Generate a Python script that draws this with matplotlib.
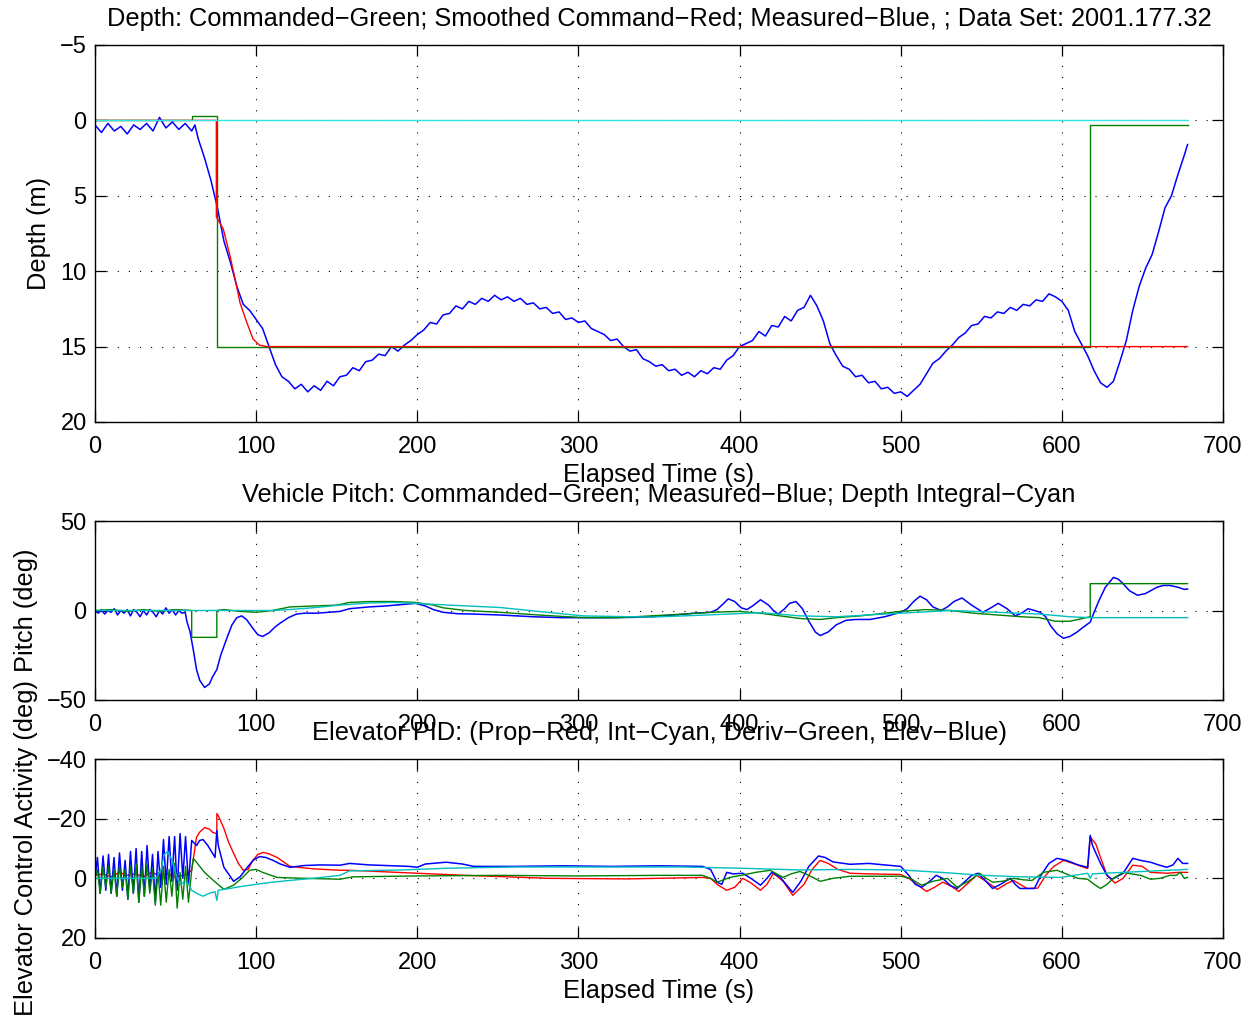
import matplotlib
matplotlib.use("Agg")
import matplotlib.pyplot as plt

plt.rcParams['font.family'] = ['Liberation Sans', 'DejaVu Sans']
plt.rcParams['font.size'] = 17

# ---------------- depth panel data ----------------
depth_meas_t = [0, 4, 8, 12, 16, 20, 24, 28, 32, 36, 40, 44, 48, 52, 56, 60, 62,
                64, 68, 72, 76, 80, 84, 88, 92, 96, 100, 104, 108, 112, 116, 120, 124,
                128, 132, 136, 140, 144, 148, 152, 156, 160, 164, 168, 172, 176, 180,
                184, 188, 192, 196, 200, 204, 208, 212, 216, 220, 224, 228, 232, 236,
                240, 244, 248, 252, 256, 260, 264, 268, 272, 276, 280, 284, 288, 292,
                296, 300, 304, 308, 312, 316, 320, 324, 328, 332, 336, 340, 344, 348,
                352, 356, 360, 364, 368, 372, 376, 380, 384, 388, 392, 396, 400, 404,
                408, 412, 416, 420, 424, 428, 432, 436, 440, 444, 448, 452, 456, 460,
                464, 468, 472, 476, 480, 484, 488, 492, 496, 500, 504, 508, 512, 516,
                520, 524, 528, 532, 536, 540, 544, 548, 552, 556, 560, 564, 568, 572,
                576, 580, 584, 588, 592, 596, 600, 604, 608, 612, 616, 620, 624, 628,
                632, 636, 640, 644, 648, 652, 656, 660, 664, 668, 672, 676, 678]
depth_meas = [0.3, 0.8, 0.2, 0.7, 0.4, 0.9, 0.3, 0.6, 0.2, 0.7, -0.2, 0.5, 0.1, 0.6, 0.2, 0.7, 0.3,
              1.2, 2.5, 4.0, 5.8, 8.0, 9.4, 11.0, 12.2, 12.6, 13.2, 13.8, 15.0, 16.2, 17.0, 17.3, 17.8,
              17.5, 18.0, 17.6, 17.9, 17.3, 17.6, 17.0, 16.9, 16.4, 16.6, 16.0, 15.9, 15.5, 15.6,
              15.0, 15.3, 14.9, 14.6, 14.2, 13.9, 13.4, 13.5, 12.9, 12.8, 12.3, 12.5, 12.0, 12.2,
              11.8, 12.0, 11.6, 11.9, 11.7, 12.0, 11.8, 12.2, 12.1, 12.5, 12.4, 12.8, 12.7, 13.2,
              13.1, 13.4, 13.3, 13.8, 14.0, 14.2, 14.6, 14.5, 15.0, 15.3, 15.2, 15.8, 16.0, 16.3,
              16.2, 16.6, 16.5, 16.9, 16.7, 17.0, 16.6, 16.8, 16.4, 16.5, 15.9, 15.6, 15.0, 14.8,
              14.6, 14.0, 14.3, 13.6, 13.7, 13.0, 13.3, 12.6, 12.4, 11.6, 12.3, 13.3, 14.8, 15.6,
              16.3, 16.5, 17.0, 16.9, 17.4, 17.3, 17.8, 17.7, 18.1, 18.0, 18.3, 17.9, 17.5, 16.8,
              16.1, 15.8, 15.3, 14.9, 14.4, 14.1, 13.6, 13.5, 13.0, 13.1, 12.7, 12.8, 12.4, 12.6,
              12.2, 12.3, 11.9, 12.0, 11.5, 11.7, 12.0, 12.6, 14.0, 14.8, 15.6, 16.6, 17.4, 17.7,
              17.3, 16.0, 14.6, 12.6, 11.0, 9.8, 8.9, 7.4, 5.8, 5.0, 3.6, 2.3, 1.6]

depth_smooth_t = [0, 75.3, 75.3, 79.6, 83.8, 86.9, 90.0, 94.2, 98.1, 102, 106.6, 678]
depth_smooth = [0, 0, 6.4, 7.2, 9.0, 10.5, 12.1, 13.4, 14.5, 14.9, 15, 15]

depth_cmd_t = [0, 60, 60, 75.5, 75.5, 617.5, 617.5, 678]
depth_cmd = [0, 0, -0.3, -0.3, 15, 15, 0.3, 0.3]

depth_ref_t = [0, 678]
depth_ref = [0, 0]

# ---------------- pitch panel data ----------------
pitch_meas_t = [0, 2, 4, 6, 8, 10, 12, 14, 16, 18, 20, 22, 24, 26, 28, 30, 32, 34, 36, 38,
                40, 42, 44, 46, 48, 50, 52, 54, 56, 57, 59, 61, 63, 65, 68, 71, 73, 75.6,
                78, 80, 82, 85, 88, 91, 94, 98, 101, 104, 108, 112, 115, 120, 125, 130,
                138, 145, 152, 158, 170, 180, 190, 199, 205, 210, 216, 225, 235, 251, 262,
                272, 290, 303, 320, 335, 345, 360, 372, 382, 386, 389, 393, 397, 401,
                404.5, 408, 413, 418, 421, 424, 428, 431, 435, 439, 443, 447, 450, 455,
                460, 466, 472, 481, 490, 500, 504, 508, 512, 516, 520, 525, 529, 533, 538,
                544, 551, 556, 560.5, 566, 571, 575, 579, 583, 586.5, 590, 593, 597, 601,
                605, 609.5, 613, 617.6, 620, 623, 627, 632, 635, 638, 642, 647, 652, 659,
                663, 667, 672, 676, 678]
pitch_meas = [0, -1.5, 0.5, -2, 0, -1, 1, -2.5, 0, -1.5, 0.5, -3, 0.5, -1, -3.5, 0, -2.5, 0.5,
              -1, -3.5, 0, -2, 1.5, -1.5, 0.5, -2.5, 0, -1.5, -1, -6, -12, -22, -33, -39, -43,
              -41, -37, -33, -25, -20, -15, -8, -4, -3, -5, -10, -13.5, -14.5, -12.5, -9, -7,
              -4, -2, -1.5, -1.5, -1, -0.5, 1, 2, 2.5, 3.3, 4, 2.5, 0.5, -1, -1.8, -2, -2.5,
              -3, -3.5, -4, -4, -4, -3.8, -3.5, -2.5, -1.5, -1, 0.5, 3, 6.5, 5, 1.5, 0.5, 2.5,
              6, 3, 0, -2, 1, 4, 5, 1, -6, -12, -14, -12, -8, -5.5, -5, -5, -3.5, -1, 1, 5, 8,
              6, 2, 0, 2, 5, 7, 3, -1, 1.5, 4, 1, -3, -1.5, 1, 0, -1, -3.5, -8.5, -13, -15.5,
              -14.5, -12, -9.5, -6.5, -1, 5.5, 13, 18.5, 17.5, 15, 11, 8.5, 9.5, 13, 14, 14,
              13, 11.8, 12]

pitch_cmd_t = [0, 10, 20, 30, 40, 50, 60, 60, 75.6, 75.6, 80, 90, 100, 110, 121, 135, 150,
               158, 170, 185, 199, 210, 216, 230, 251, 275, 303, 325, 345, 365, 382, 400,
               413, 425, 438, 450, 460, 475, 490, 500, 515, 531, 545, 560, 575, 586, 596,
               605, 617.6, 617.6, 678]
pitch_cmd = [0, 0.5, -0.5, 0.5, -0.5, 0.5, 0, -15, -15, 0, 0.5, -0.5, -1, 0, 2, 2.5, 3,
             4.5, 5, 5, 4.5, 3, 1.5, 0, -1, -2.5, -4, -4, -3, -2, -1, -0.5, -1.5, -3, -4.5,
             -5, -4, -3, -1.5, -0.5, 0.5, 0, -1.5, -2.5, -3.5, -4, -6, -6, -3.5, 15, 15]

pitch_int_t = [0, 110, 120, 135, 152, 170, 185, 199, 220, 251, 275, 303, 345, 380, 413,
               437.5, 460, 500, 531, 560, 586, 605, 617.6, 678]
pitch_int = [0, 0, 0.5, 1.5, 3, 4.2, 4.5, 4, 3, 1.7, -0.5, -3, -3.7, -2.5, -1.2, -3, -3.5,
             -1.5, 0, -1, -2, -3.5, -4, -4]

# ---------------- elevator panel data ----------------
elev_t = [0, 1.5, 3.2, 5, 6.7, 8.4, 10, 11.8, 13.5, 15.2, 17, 18.7, 20.4, 22, 23.8, 25.5,
          27.2, 29, 30.6, 32.3, 34, 35.7, 37.4, 39.1, 40.8, 42.5, 44.2, 46, 47.7, 49.4, 51,
          52.8, 54.5, 56.2, 58, 60, 63, 65, 67, 70, 74.5, 75.6, 76.5, 80, 86, 90, 94, 98,
          102, 106, 110.5, 115, 121, 130, 140, 152, 158, 170, 185, 195, 200, 205, 218, 228,
          235, 260, 290, 320, 350, 377, 382, 386, 389, 392, 396, 402, 407, 413, 417, 420,
          425, 433, 438, 443, 449, 453, 458, 468.6, 480, 490, 500, 505, 509, 513, 518, 522,
          526, 531, 535, 540, 544, 548, 552, 557, 562, 568, 571, 574, 579, 583, 587, 592,
          597, 603, 610, 616, 617.6, 619, 624, 628, 631, 634, 638, 644, 649, 655, 660, 665,
          669, 672, 675, 678]
elev = [0, -7, 5, -7.5, 4, -8, 5, -7, 6, -8.5, 4, -6, 7, -9, 5, -10, 8, -9, 6, -11, 4, -8,
        8, -9, 3, -13, 2, -14, 1, -14, 4, -15, 0, -14, 2, -12.7, -11, -12.7, -13, -11, -7,
        -16, -11, -3.7, 1, -0.5, -3.3, -6, -7.3, -7, -6, -4.8, -3.7, -4.3, -4.5, -4.4, -5,
        -4.5, -4.2, -4, -3.7, -4.8, -5.4, -4.8, -4, -4, -4.2, -4, -4.2, -4, -3, 1.3, 2, -2,
        -1.5, -1.7, 0, 2.3, 0, -2, -0.5, 4.7, 1, -4, -7.5, -7, -5.5, -4.7, -5, -4.5, -4,
        -1, 2, 3, 1, -1, 0, 2.5, 3.4, 1, -1, -1.7, 0.5, 3.4, 2, 0, 2, 3.4, 3.4, 3.4, -1, -5,
        -6.7, -6, -4.5, -3.7, -14.4, -11, -5, -1, 0.3, -0.5, -1.7, -6.7, -6, -5.4, -4.5,
        -3.7, -4.5, -6.7, -5, -5]

prop_t = [0, 5, 10, 15, 20, 25, 30, 35, 40, 45, 50, 55, 57, 60, 63, 65, 68, 71, 73, 75.6,
          75.6, 76.5, 80, 83, 86, 89, 92, 95, 98, 101, 104.5, 108, 113, 117, 121, 135, 152,
          158, 175, 200, 230, 282, 330, 377, 382, 386, 392, 397, 402, 407, 413, 417, 421,
          427, 433, 440, 445, 450, 455, 461, 468.6, 480, 500, 505, 510, 516, 521, 526, 531,
          536, 541, 547, 553, 560, 565, 570, 574, 578.5, 585, 590, 595, 601, 607, 612, 616,
          617.6, 621, 624, 628, 633, 638, 644, 650, 655, 665, 672, 678]
prop = [-1, -1.5, -0.5, -2, -1, -1.5, -0.5, -2, -1, -1.5, -0.5, -1, -1.5, -2.7, -13.8,
        -15.5, -17, -16.5, -15.4, -15, -21.7, -21, -16.7, -12, -8.4, -5, -2.7, -3, -6, -8,
        -8.7, -8.2, -7, -5.5, -4, -3.2, -2.7, -2.7, -2.3, -1.7, -1, 0, 0.2, -0.3, 0, 2, 4,
        3, 0, 1.5, 4, 2, -1.7, 1, 5.7, 2, -3, -6, -5, -3, -1.7, -1.5, -1.3, 0, 2, 4.4, 3,
        1.3, 2.5, 4.4, 2, -1, 1, 3.7, 2, 0.7, 2, 3.4, 3.3, -1, -4, -6, -5, -4, -3.3, -13.8,
        -11.6, -7, -1, 1.6, 0, -4.4, -4, -2, -1.7, -2, -2]

deriv_t = [0, 1.5, 3.2, 5, 6.7, 8.4, 10, 11.8, 13.5, 15.2, 17, 18.7, 20.4, 22, 23.8, 25.5,
           27.2, 29, 30.6, 32.3, 34, 35.7, 37.4, 39.1, 40.8, 42.5, 44.2, 46, 47.7, 49.4, 51,
           52.8, 54.5, 56.2, 58, 60, 61, 63, 65, 68, 72, 75.6, 80, 86, 91, 96, 100, 104, 113,
           130, 152, 160, 200, 250, 300, 350, 377, 382, 386, 390, 394, 401, 410, 419, 423,
           427, 432, 437.5, 443, 450, 458, 468.6, 500, 506, 513, 520, 529, 535, 542, 549,
           553, 557, 563, 570, 576, 581.5, 588.5, 597, 605, 610, 616, 620, 624, 628, 632,
           638, 643, 649, 655, 661, 667, 671, 673.5, 676, 678]
deriv = [0, -3, 5, -4, 3, -4, 5, -3, 6, -4, 3, -3, 7, -4, 5, -5, 8, -4, 6, -5, 5, -3, 9,
         -2, 9, -4, 8, -3, 6, -5, 10, -2, 7, -4, 8, -2.7, -6.7, -5.4, -4, -2, 0, 1.7, 3.7,
         2.3, 0, -2.7, -3, -2, -0.3, 0, 0.3, -0.5, -0.8, -1, -0.8, -1, -1, 0, 1.3, 0.5,
         -0.3, -1, -2, -2.7, -1.5, -0.3, -1.5, -2.3, -1, 1, 0, -0.7, -0.7, 0, 2.3, 1, 0, 3,
         1, -1.7, 0, 1.3, 1, 0, 0.5, 0.7, -2, -2.7, -1, 0, 0.3, 2, 3.4, 2, 0, -2, -1.5, -1,
         0.3, 0, -1, -1, -2, 0, -0.3]

integ_t = [0, 38, 41, 43, 45, 47, 49, 51, 53, 56, 58, 60, 63, 67, 71, 74.5, 75.6, 76.5,
           80, 90, 100, 110, 121, 135, 152, 158, 190, 220, 260, 303, 365, 400, 437.5, 468.6,
           500, 525, 551, 575, 599, 616, 617.6, 619, 626, 650, 678]
integ = [0, 0, -3, -8, -9, -7, -4, 0, 2, 1, 2, 4, 5, 6, 5, 4.5, 7.4, 4, 3.7, 2.8, 2, 1.3,
         0.7, 0, -1, -2.5, -2.8, -3.4, -3.8, -3.8, -3.8, -3.4, -2.8, -3, -2.8, -2, -1, -0.5,
         -0.3, -1.7, 0, -1.5, -1.7, -2.3, -3]

x_ticks = [0, 100, 200, 300, 400, 500, 600, 700]
cyan_bright = '#33e6e6'
cyan = (0, 0.75, 0.75)
grid_style = dict(color='k', linestyle=(0, (1, 9)), linewidth=0.8)
label_fs = 18.3

fig = plt.figure(figsize=(12.57, 10.16), dpi=100)
W, H = 1257.0, 1016.0


def make_axes(top, bottom):
    ax = fig.add_axes((95 / W, 1 - bottom / H, 1128 / W, (bottom - top) / H))
    ax.set_xlim(0, 700)
    ax.set_xticks(x_ticks)
    ax.tick_params(direction='in', top=True, right=True, length=8, width=0.9,
                   labelsize=17)
    ax.tick_params(axis='x', pad=10)
    ax.tick_params(axis='y', pad=6)
    for s in ax.spines.values():
        s.set_linewidth(1.0)
    ax.grid(True, **grid_style)
    ax.set_axisbelow(True)
    return ax


# depth
ax1 = make_axes(45, 422)
ax1.plot(depth_meas_t, depth_meas, color='b', lw=1.1)
ax1.plot(depth_cmd_t, depth_cmd, color='g', lw=1.0)
ax1.plot(depth_smooth_t, depth_smooth, color='r', lw=1.0)
ax1.plot(depth_ref_t, depth_ref, color=cyan_bright, lw=1.0)
ax1.set_ylim(20, -5)
ax1.set_yticks([-5, 0, 5, 10, 15, 20])
ax1.set_ylabel('Depth (m)', fontsize=label_fs, labelpad=6)
ax1.set_xlabel('Elapsed Time (s)', fontsize=label_fs, labelpad=4)
ax1.set_title('Depth: Commanded\u2212Green; Smoothed Command\u2212Red; Measured\u2212Blue, ; '
              'Data Set: 2001.177.32', fontsize=label_fs, pad=14)

# pitch
ax2 = make_axes(521, 700)
ax2.plot(pitch_meas_t, pitch_meas, color='b', lw=1.1)
ax2.plot(pitch_cmd_t, pitch_cmd, color='g', lw=1.0)
ax2.plot(pitch_int_t, pitch_int, color=cyan, lw=1.0)
ax2.set_ylim(-50, 50)
ax2.set_yticks([-50, 0, 50])
ax2.set_ylabel('Pitch (deg)', fontsize=label_fs, labelpad=6)
ax2.set_title('Vehicle Pitch: Commanded\u2212Green; Measured\u2212Blue; Depth Integral\u2212Cyan',
              fontsize=label_fs, pad=14)

# elevator
ax3 = make_axes(759, 938)
ax3.plot(prop_t, prop, color='r', lw=1.0)
ax3.plot(elev_t, elev, color='b', lw=1.1)
ax3.plot(deriv_t, deriv, color='g', lw=1.0)
ax3.plot(integ_t, integ, color=cyan, lw=1.0)
ax3.set_ylim(20, -40)
ax3.set_yticks([-40, -20, 0, 20])
ax3.set_ylabel('Elevator Control Activity (deg)', fontsize=label_fs, labelpad=6)
ax3.set_xlabel('Elapsed Time (s)', fontsize=label_fs, labelpad=4)
ax3.set_title('Elevator PID: (Prop\u2212Red, Int\u2212Cyan, Deriv\u2212Green, Elev\u2212Blue)',
              fontsize=label_fs, pad=14)

fig.savefig('out.png', dpi=100)
